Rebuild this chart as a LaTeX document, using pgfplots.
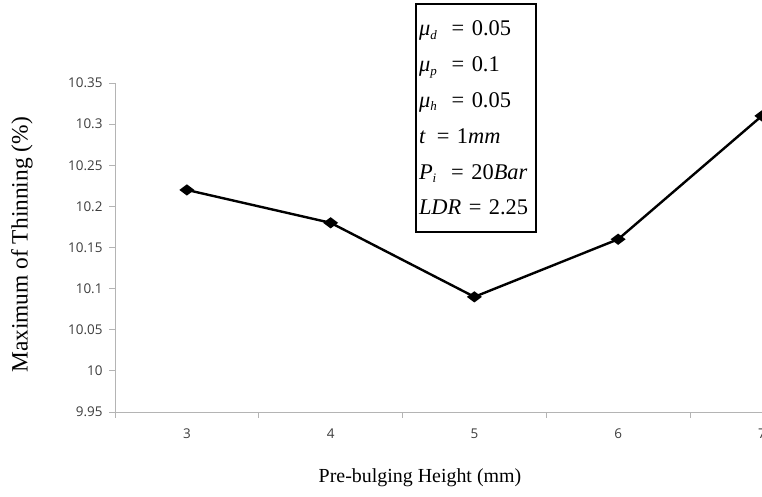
\documentclass[border=0pt]{standalone}
\usepackage{fontspec}
\setmainfont{Liberation Serif}
\newfontfamily\tickfont{Open Sans}
\usepackage{pgfplots}
\pgfplotsset{compat=1.18}
\definecolor{axgray}{RGB}{180,180,180}
\definecolor{ticktext}{RGB}{60,60,60}
\newcommand\sub[1]{\raisebox{-0.35ex}{\fontsize{13}{13}\selectfont\textit{#1}}}
\begin{document}
\begin{tikzpicture}
\begin{axis}[
  at={(115bp,85bp)}, anchor=south west,
  scale only axis, width=718.75bp, height=329bp,
  xmin=2.5, xmax=7.5, ymin=9.95, ymax=10.35,
  axis x line*=bottom, axis y line*=left,
  axis line style={draw=axgray, line width=0.8bp},
  xtick={2.5,3.5,4.5,5.5,6.5,7.5},
  x tick label as interval,
  xticklabels={3,4,5,6,7},
  ytick={9.95,10,10.05,10.1,10.15,10.2,10.25,10.3,10.35},
  yticklabels={9.95,10,10.05,10.1,10.15,10.2,10.25,10.3,10.35},
  scaled y ticks=false,
  tick align=outside, major tick length=6bp,
  tick style={draw=axgray, line width=0.8bp},
  ticklabel style={font=\tickfont\fontsize{13.5}{15}\selectfont, text=ticktext},
  xticklabel style={yshift=-7bp},
  yticklabel style={xshift=-3bp},
  /pgf/number format/assume math mode=true,
]
\addplot[black, line width=2.4bp, mark=diamond*, mark size=5.5bp, mark options={solid, rotate=90}]
  coordinates {(3,10.22) (4,10.18) (5,10.09) (6,10.16) (7,10.31)};
\end{axis}
\node[rotate=90, font=\fontsize{23.5}{25}\selectfont] at (22bp,252bp) {Maximum of Thinning (\%)};
\node[font=\fontsize{20}{22}\selectfont] at (420bp,19bp) {Pre-bulging Height (mm)};
\node[draw, line width=1.3bp, minimum width=120bp, minimum height=228bp, text width=114bp,
      align=left, inner sep=2bp, font=\fontsize{22.5}{36}\selectfont] at (476bp,379bp)
  {\textit{μ}\sub{d}\,\, = 0.05\\
   \textit{μ}\sub{p}\,\, = 0.1\\
   \textit{μ}\sub{h}\,\, = 0.05\\
   \textit{t} \,= 1\textit{mm}\\
   \textit{P}\sub{i}\,\, = 20\textit{Bar}\\
   \textit{LDR} = 2.25};
\pgfresetboundingbox
\useasboundingbox (0,0) rectangle (762bp,497bp);
\end{tikzpicture}
\end{document}
